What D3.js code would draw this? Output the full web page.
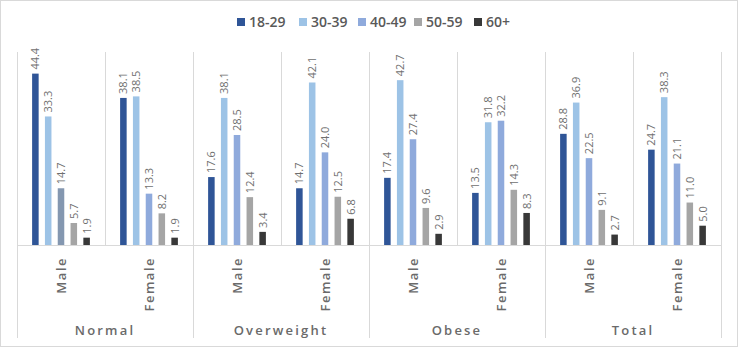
<!DOCTYPE html>
<html>
<head>
<meta charset="utf-8">
<script src="https://cdn.jsdelivr.net/npm/d3@7"></script>
<style>
    body { margin: 0; background: #fff; }
    svg { display: block; font-family: "Open Sans", "DejaVu Sans", sans-serif; }
</style>
</head>
<body>
<script>
const w = 739;
const h = 348;

// categories
const groups = ["Normal", "Overweight", "Obese", "Total"];
const sexes = ["Male", "Female"];
const ages = ["18-29", "30-39", "40-49", "50-59", "60+"];

// one array per age group, in order Normal M/F, Overweight M/F, Obese M/F, Total M/F
const age18to29 = [44.4, 38.1, 17.6, 14.7, 17.4, 13.5, 28.8, 24.7];
const age30to39 = [33.3, 38.5, 38.1, 42.1, 42.7, 31.8, 36.9, 38.3];
const age40to49 = [14.7, 13.3, 28.5, 24.0, 27.4, 32.2, 22.5, 21.1];
const age50to59 = [5.7, 8.2, 12.4, 12.5, 9.6, 14.3, 9.1, 11.0];
const age60plus = [1.9, 1.9, 3.4, 6.8, 2.9, 8.3, 2.7, 5.0];

const series = [age18to29, age30to39, age40to49, age50to59, age60plus];
const colors = ["#2f5597", "#9dc3e6", "#8faadc", "#a5a5a5", "#383838"];

const plotLeft = 17, plotRight = 721, plotTop = 52, plotBase = 245;

const svg = d3.select("body")
    .append("svg")
    .attr("width", w)
    .attr("height", h)
    ;

svg.append("rect")
    .attr("x", 0.5).attr("y", 0.5)
    .attr("width", w - 2).attr("height", h - 2)
    .attr("fill", "#fff")
    .attr("stroke", "#d9d9d9")
    ;

// sub-categories: "Normal|Male" etc.
const cats = [];
groups.forEach(g => sexes.forEach(s => cats.push(g + "|" + s)));

const xScale = d3.scaleBand()
    .domain(cats)
    .range([plotLeft, plotRight])
    ;

const xInner = d3.scaleBand()
    .domain(ages)
    .range([0, xScale.bandwidth()])
    .paddingInner(0.49)
    .paddingOuter(1.18)
    ;

const yScale = d3.scaleLinear()
    .domain([0, 50])
    .range([plotBase, plotTop])
    ;

// minor dividers (plot area only)
svg.selectAll("line.minor")
    .data(cats)
    .enter()
    .append("line")
    .attr("class", "minor")
    .attr("x1", d => Math.round(xScale(d)) + 0.5)
    .attr("x2", d => Math.round(xScale(d)) + 0.5)
    .attr("y1", plotTop)
    .attr("y2", plotBase)
    .attr("stroke", "#d9d9d9")
    ;

// major dividers (down through labels)
const majorX = groups.map(g => xScale(g + "|Male")).concat([plotRight]);
svg.selectAll("line.major")
    .data(majorX)
    .enter()
    .append("line")
    .attr("class", "major")
    .attr("x1", d => Math.round(d) + 0.5)
    .attr("x2", d => Math.round(d) + 0.5)
    .attr("y1", plotTop)
    .attr("y2", 338)
    .attr("stroke", "#d9d9d9")
    ;

// baseline
svg.append("line")
    .attr("x1", plotLeft).attr("x2", plotRight)
    .attr("y1", yScale(0) + 0.5).attr("y2", yScale(0) + 0.5)
    .attr("stroke", "#d9d9d9")
    ;

// bars
series.forEach((vals, si) => {
    const g = svg.append("g");
    g.selectAll("rect")
        .data(vals)
        .enter()
        .append("rect")
        .attr("x", (d, i) => xScale(cats[i]) + xInner(ages[si]))
        .attr("y", d => yScale(d))
        .attr("width", xInner.bandwidth())
        .attr("height", d => yScale(0) - yScale(d))
        .attr("fill", (d, i) => (si == 2 && i == 0) ? "#8497b0" : colors[si])
        ;
    g.selectAll("text")
        .data(vals)
        .enter()
        .append("text")
        .attr("transform", (d, i) => {
            const cx = xScale(cats[i]) + xInner(ages[si]) + xInner.bandwidth() / 2;
            return `translate(${cx + 4},${yScale(d) - 4}) rotate(-90)`;
        })
        .attr("font-size", "11px")
        .attr("fill", "#6f6f6f")
        .text(d => d.toFixed(1))
        ;
});

// sex labels
svg.selectAll("text.sex")
    .data(cats)
    .enter()
    .append("text")
    .attr("class", "sex")
    .attr("transform", d => `translate(${xScale(d) + xScale.bandwidth() / 2 + 5},257) rotate(-90)`)
    .attr("text-anchor", "end")
    .attr("font-size", "13px")
    .attr("font-weight", 600)
    .attr("letter-spacing", "1.5px")
    .attr("fill", "#6a6a6a")
    .text(d => d.split("|")[1])
    ;

// group labels
svg.selectAll("text.grp")
    .data(groups)
    .enter()
    .append("text")
    .attr("class", "grp")
    .attr("x", g => xScale(g + "|Male") + xScale.bandwidth())
    .attr("y", 335)
    .attr("text-anchor", "middle")
    .attr("font-size", "13px")
    .attr("font-weight", 600)
    .attr("letter-spacing", "2.2px")
    .attr("fill", "#6a6a6a")
    .text(g => g)
    ;

// legend
const legendX = [237, 299, 358, 414, 474];
const legend = svg.selectAll("g.legend")
    .data(ages)
    .enter()
    .append("g")
    .attr("class", "legend")
    .attr("transform", (d, i) => `translate(${legendX[i]},18)`)
    ;
legend.append("rect")
    .attr("width", 8).attr("height", 8)
    .attr("fill", (d, i) => colors[i])
    ;
legend.append("text")
    .attr("x", 12)
    .attr("y", 9)
    .attr("font-size", "14px")
    .attr("font-weight", 600)
    .attr("fill", "#595959")
    .text(d => d)
    ;
</script>
</body>
</html>
